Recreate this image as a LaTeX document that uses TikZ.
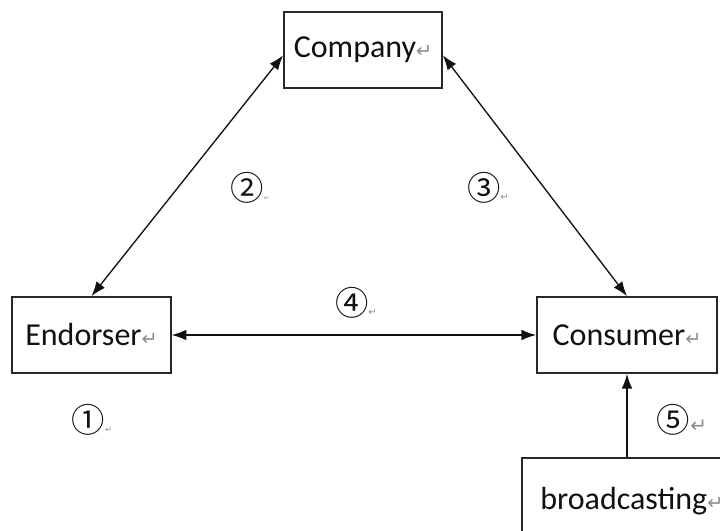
\documentclass[tikz,border=0pt]{standalone}
\usepackage{fontspec}
\setmainfont{Carlito}
\newfontfamily\symfont{DejaVu Sans}
\newfontfamily\circfont{Noto Sans CJK SC}
\usetikzlibrary{arrows.meta}
\definecolor{ink}{RGB}{17,17,17}
\definecolor{frame}{RGB}{40,40,40}
\definecolor{pmark}{RGB}{140,140,140}
% paragraph mark after each text
\newcommand{\ret}[1][0.6]{\scalebox{#1}{\textcolor{pmark}{\symfont ↵}}}
\tikzset{
  party/.style={draw=frame, line width=1.3pt, fill=white, align=center, text=ink,
                font=\fontsize{24}{28}\selectfont, inner sep=0pt},
  num/.style={text=ink, font=\fontsize{25}{28}\circfont, inner sep=0pt},
  link/.style={{Latex[length=11pt,width=8pt]}-{Latex[length=11pt,width=8pt]}, line width=1pt, draw=ink},
  feed/.style={-{Latex[length=11pt,width=8pt]}, line width=1pt, draw=ink},
}

\begin{document}
\begin{tikzpicture}[x=0.75pt, y=-0.75pt]
  \clip (0,0) rectangle (720,531);
  \fill[white] (0,0) rectangle (720,531);

  % ---- the three parties and the channel ---------------------------
  \node[party, minimum width=118.5pt, minimum height=57pt] (company) at (363,50) {Company\ret};
  \node[party, minimum width=119pt, minimum height=57pt] (endorser) at (91.5,335) {Endorser\ret};
  \node[party, minimum width=135pt, minimum height=57pt] (consumer) at (627,335) {Consumer\ret};
  \node[party, anchor=north west, minimum width=165pt, minimum height=64.5pt] (broad) at (521,457) {broadcasting\ret};

  % ---- relations ----------------------------------------------------
  \draw[link] (endorser.north) -- ([yshift=-4pt]company.west);
  \draw[link] (consumer.north) -- ([yshift=-4pt]company.east);
  \draw[link] (endorser.east) -- (consumer.west);
  \draw[feed] (consumer.south |- broad.north) -- (consumer.south);

  % ---- numbered relations ---------------------------------------------
  \node[num] (n1) at (92,420) {①\ret[0.25]};
  \node[num] (n2) at (250,188) {②\ret[0.2]};
  \node[num] (n3) at (488,188) {③\ret[0.3]};
  \node[num] (n4) at (356,303) {④\ret[0.3]};
  \node[num] (n5) at (682,420) {⑤\ret};
\end{tikzpicture}
\end{document}
